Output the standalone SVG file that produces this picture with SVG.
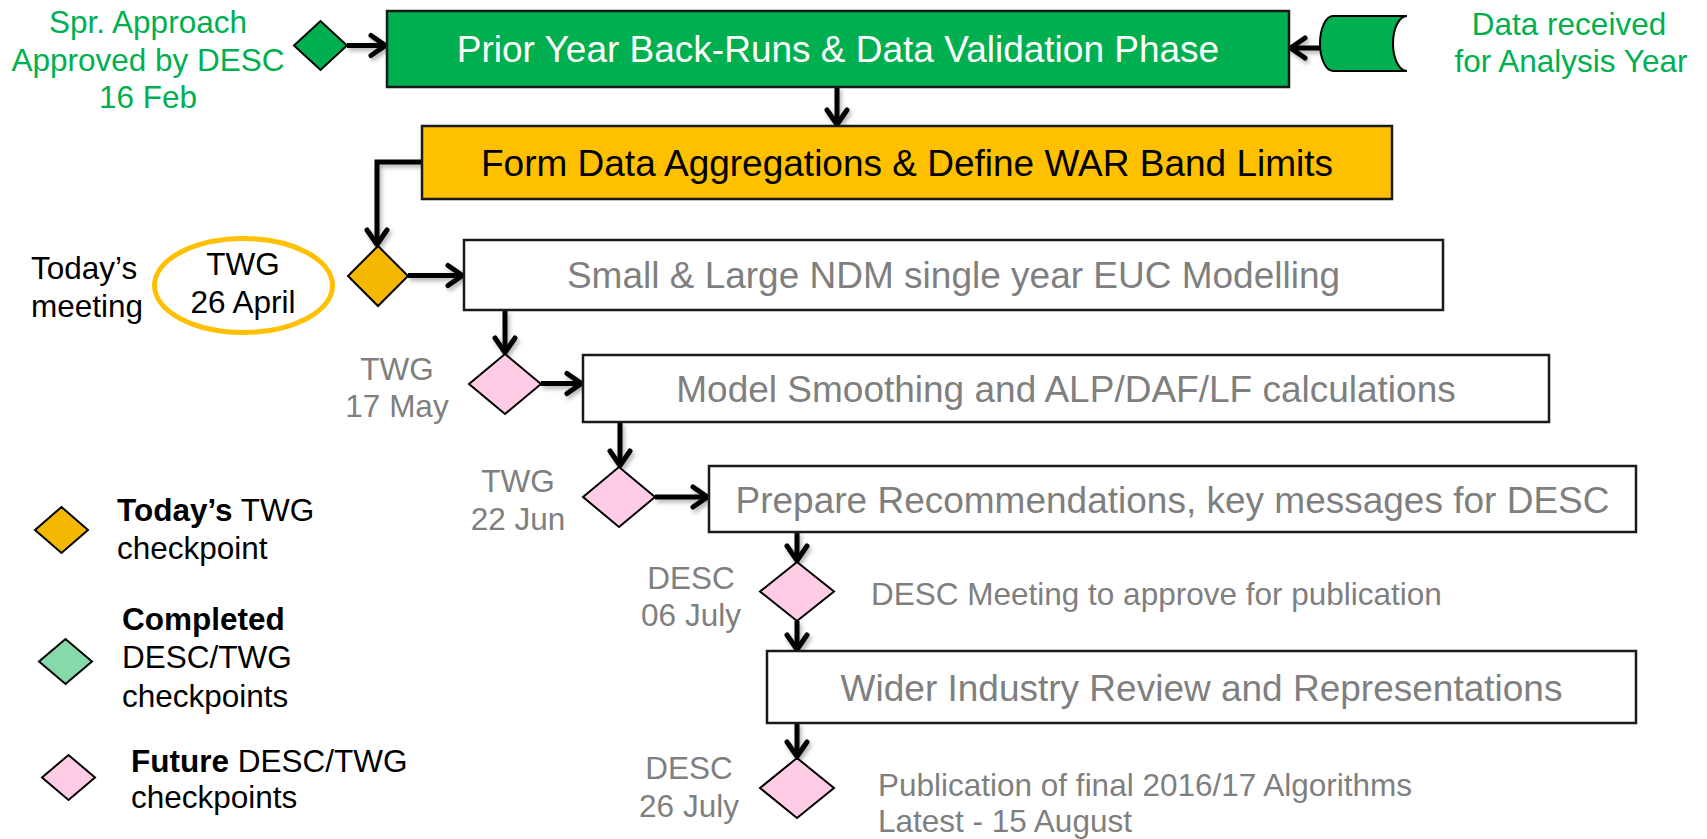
<svg xmlns="http://www.w3.org/2000/svg" width="1707" height="839" viewBox="0 0 1707 839">
<style>
text{font-family:"Liberation Sans",Arial,sans-serif}
.box{stroke:#1a1a1a;stroke-width:2.5}
.wbox{fill:#fff}
.bt{font-size:37px;text-anchor:middle}
.gray{fill:#7f7f7f}
.st{font-size:31.5px}
.mid{text-anchor:middle}
.dia{stroke:#000;stroke-width:2}
.pink{fill:#ffcce6}
.orng{fill:#f4b800}
.grn{fill:#00b050}
.lgrn{fill:#86d9a8}
.gtxt{fill:#00b050}
.conn{fill:none;stroke:#000;stroke-width:5;marker-end:url(#ah)}
</style>
<defs>
<filter id="sh" x="-20%" y="-20%" width="140%" height="140%">
<feDropShadow dx="2" dy="3" stdDeviation="2" flood-color="#000" flood-opacity="0.3"/>
</filter>
<marker id="ah" markerUnits="userSpaceOnUse" markerWidth="40" markerHeight="40" viewBox="-20 -20 40 40" refX="0" refY="0" orient="auto">
<path d="M-13,-10 L1.5,0 L-13,10" fill="none" stroke="#000" stroke-width="5" stroke-linecap="round" stroke-linejoin="round"/>
</marker>
</defs>
<rect width="1707" height="839" fill="#fff"/>

<g id="connectors" filter="url(#sh)">
<path class="conn" d="M347,45.5 H384"/>
<path class="conn" d="M1320,48 H1292"/>
<path class="conn" d="M837,87 V123"/>
<path class="conn" d="M422,162 H377 V243"/>
<path class="conn" d="M408,275.5 H461"/>
<path class="conn" d="M505,310 V351"/>
<path class="conn" d="M541,383.5 H580"/>
<path class="conn" d="M620,422 V464"/>
<path class="conn" d="M655,497 H706"/>
<path class="conn" d="M797,532 V559"/>
<path class="conn" d="M797,621 V648"/>
<path class="conn" d="M797,723 V755"/>
</g>

<g id="spr-approach">
<polygon class="dia grn" points="294,45.5 320.5,21 347,45.5 320.5,70"/>
<text class="st gtxt mid" x="148" y="33">Spr. Approach</text>
<text class="st gtxt mid" x="148" y="70.5">Approved by DESC</text>
<text class="st gtxt mid" x="148" y="108">16 Feb</text>
</g>

<g id="prior-year">
<rect class="box" x="387" y="11" width="902" height="76" fill="#00b050"/>
<text class="bt" x="838" y="62" fill="#fff">Prior Year Back-Runs &amp; Data Validation Phase</text>
</g>

<g id="data-received">
<path d="M1333,16 H1407 A14,27.5 0 0 0 1407,71 H1333 A13,27.5 0 0 1 1333,16 Z" fill="#00b050" stroke="#000" stroke-width="2"/>
<text class="st gtxt mid" x="1569" y="35">Data received</text>
<text class="st gtxt mid" x="1571" y="72">for Analysis Year</text>
</g>

<g id="form-data">
<rect class="box" x="422" y="126" width="970" height="73" fill="#ffc000"/>
<text class="bt" x="907" y="176" fill="#000">Form Data Aggregations &amp; Define WAR Band Limits</text>
</g>

<g id="todays-meeting">
<text class="st" x="31" y="279">Today’s</text>
<text class="st" x="31" y="317">meeting</text>
<ellipse cx="243.5" cy="285.5" rx="89" ry="47" fill="none" stroke="#ffc000" stroke-width="5"/>
<text class="st mid" x="243" y="275">TWG</text>
<text class="st mid" x="243" y="313">26 April</text>
</g>

<g id="twg-26-april">
<polygon class="dia orng" points="348,276 378,246 408,276 378,306"/>
</g>

<g id="euc-modelling">
<rect class="box wbox" x="464" y="240" width="979" height="70"/>
<text class="bt gray" x="953.5" y="288">Small &amp; Large NDM single year EUC Modelling</text>
</g>

<g id="twg-17-may">
<polygon class="dia pink" points="469,384 505,354 541,384 505,414"/>
<text class="st gray mid" x="397" y="380">TWG</text>
<text class="st gray mid" x="397" y="417">17 May</text>
</g>

<g id="model-smoothing">
<rect class="box wbox" x="583" y="355" width="966" height="67"/>
<text class="bt gray" x="1066" y="402">Model Smoothing and ALP/DAF/LF calculations</text>
</g>

<g id="twg-22-jun">
<polygon class="dia pink" points="583,497 619,467 655,497 619,527"/>
<text class="st gray mid" x="518" y="492">TWG</text>
<text class="st gray mid" x="518" y="530">22 Jun</text>
</g>

<g id="prepare-recs">
<rect class="box wbox" x="709" y="466" width="927" height="66"/>
<text class="bt gray" x="1172.5" y="513">Prepare Recommendations, key messages for DESC</text>
</g>

<g id="desc-06-july">
<polygon class="dia pink" points="760,591.5 797,562 834,591.5 797,621"/>
<text class="st gray mid" x="691" y="589">DESC</text>
<text class="st gray mid" x="691" y="626">06 July</text>
<text class="st gray" x="871" y="605">DESC Meeting to approve for publication</text>
</g>

<g id="wider-review">
<rect class="box wbox" x="767" y="651" width="869" height="72"/>
<text class="bt gray" x="1201.5" y="701">Wider Industry Review and Representations</text>
</g>

<g id="desc-26-july">
<polygon class="dia pink" points="760,788 797,758 834,788 797,818"/>
<text class="st gray mid" x="689" y="779">DESC</text>
<text class="st gray mid" x="689" y="817">26 July</text>
<text class="st gray" x="878" y="796">Publication of final 2016/17 Algorithms</text>
<text class="st gray" x="878" y="832">Latest - 15 August</text>
</g>

<g id="legend">
<polygon class="dia orng" points="35,530 61.5,507 88,530 61.5,553"/>
<text class="st" x="117" y="521"><tspan font-weight="bold">Today’s</tspan> TWG</text>
<text class="st" x="117" y="559">checkpoint</text>
<polygon class="dia lgrn" points="39,661.5 65.5,639 92,661.5 65.5,684"/>
<text class="st" x="122" y="630" font-weight="bold">Completed</text>
<text class="st" x="122" y="668">DESC/TWG</text>
<text class="st" x="122" y="707">checkpoints</text>
<polygon class="dia pink" points="42,777.5 68.5,755 95,777.5 68.5,800"/>
<text class="st" x="131" y="772"><tspan font-weight="bold">Future</tspan> DESC/TWG</text>
<text class="st" x="131" y="808">checkpoints</text>
</g>
</svg>
